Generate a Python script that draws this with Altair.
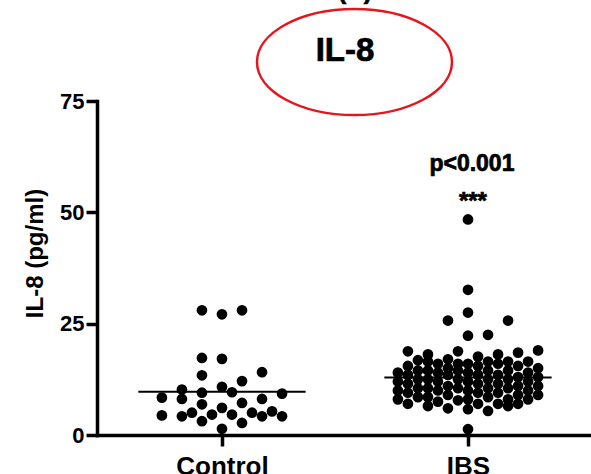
import altair as alt
import pandas as pd

# ---------------- data ----------------
groups = ["Control", "IBS"]

control_values = [28.0, 27.1, 28.0, 17.3, 17.1, 13.4, 14.1, 12.1, 10.8, 10.2,
                  9.6, 9.5, 9.3, 8.4, 8.1, 8.1, 7.2, 6.9, 4.4, 4.2,
                  5.0, 3.1, 4.6, 6.1, 4.6, 2.7, 5.0, 4.2, 5.3, 4.2, 1.4]
control_slots = [-2, 0, 2, -2, 0, -2, 4, 2, 0, -4,
                 1, -2, 6, -6, -4, 4, 2, -2, -6, -4,
                 -3, -2, -1, 0, 1, 2, 3, 4, 5, 6, 0]

ibs_values = [48.4, 32.6, 27.5, 25.7, 25.7, 22.3, 22.5, 1.3, 5.8, 5.4,
              18.8, 18.1, 17.0, 18.8, 17.6, 18.1, 18.5, 19.0,
              8.0, 10.0, 12.0, 14.0,
              7.0, 9.5, 11.5, 13.5, 15.5,
              8.5, 10.5, 12.5, 14.5, 16.8,
              6.5, 8.5, 10.5, 12.5, 14.5, 16.5,
              7.5, 10.0, 12.0, 14.0, 16.0,
              6.0, 9.0, 11.0, 13.5, 15.0,
              7.8, 10.5, 12.5, 14.5, 16.0,
              8.0, 10.0, 12.0, 14.0, 16.0,
              7.0, 9.5, 11.5, 13.5, 15.5,
              8.5, 10.5, 12.5, 14.5, 16.5,
              7.0, 9.5, 11.5, 13.5, 16.0,
              6.5, 8.0, 10.5, 12.5, 14.5, 16.5,
              7.0, 9.0, 11.0, 13.0, 15.5,
              8.0, 10.0, 12.0, 14.0, 16.5,
              9.0, 11.0, 13.0, 15.0]
ibs_slots = [0, 0, 0, -2, 4, 0, 2, 0, 0, 2,
             -6, -4, -2, -1, 1, 3, 5, 7,
             -7, -7, -7, -7,
             -6, -6, -6, -6, -6,
             -5, -5, -5, -5, -5,
             -4, -4, -4, -4, -4, -4,
             -3, -3, -3, -3, -3,
             -2, -2, -2, -2, -2,
             -1, -1, -1, -1, -1,
             0, 0, 0, 0, 0,
             1, 1, 1, 1, 1,
             2, 2, 2, 2, 2,
             3, 3, 3, 3, 3,
             4, 4, 4, 4, 4, 4,
             5, 5, 5, 5, 5,
             6, 6, 6, 6, 6,
             7, 7, 7, 7]

group_means = [9.7, 12.9]
y_ticks = [0, 25, 50, 75]

title_text = "IL-8"
panel_tag = "(A)"
p_text = "p<0.001"
stars_text = "***"
p_value_y = 59.2
stars_y = 50.7

# ---------------- build tables ----------------
SLOT = 0.0407      # width of one dot column in x-scale units
HALF = 0.34        # half width of the mean line in x-scale units

rows = []
for gi, (vals, slots) in enumerate([(control_values, control_slots),
                                    (ibs_values, ibs_slots)]):
    for v, s in zip(vals, slots):
        rows.append({"group": groups[gi], "value": v, "xpos": gi + 1 + s * SLOT})
df = pd.DataFrame(rows)

means_df = pd.DataFrame({
    "group": groups,
    "mean": group_means,
    "x1": [i + 1 - HALF for i in range(len(groups))],
    "x2": [i + 1 + HALF for i in range(len(groups))],
})

FONT = "Liberation Sans"

xscale = alt.Scale(domain=[0.492, 2.5], nice=False, zero=False)
yscale = alt.Scale(domain=[0, 75], nice=False)

label_expr = "[" + ",".join("'%s'" % g for g in groups) + "][datum.value - 1]"

points = alt.Chart(df).mark_circle(size=115, color="black", opacity=1).encode(
    x=alt.X("xpos:Q", scale=xscale,
            axis=alt.Axis(values=[1, 2], labelExpr=label_expr, title=None,
                          labelFontSize=26, labelPadding=7, labelFlush=False,
                          labelOverlap=False)),
    y=alt.Y("value:Q", scale=yscale,
            axis=alt.Axis(values=y_ticks, title="IL-8 (pg/ml)",
                          labelFontSize=22, labelPadding=2,
                          titleFontSize=24, titleX=-62, titleY=152,
                          titleAngle=270, titleAlign="center",
                          titleBaseline="middle")),
)

means = alt.Chart(means_df).mark_rule(color="black", strokeWidth=2).encode(
    x="x1:Q", x2="x2:Q", y="mean:Q"
)

text_style = dict(font=FONT, fontWeight="bold", color="black",
                  baseline="alphabetic", stroke="black", strokeWidth=0.7)

ptext = alt.Chart(pd.DataFrame({"t": [p_text], "x": [2.016], "y": [p_value_y]})).mark_text(
    fontSize=23, **text_style
).encode(x="x:Q", y="y:Q", text="t:N")

stars = alt.Chart(pd.DataFrame({"t": [stars_text], "x": [2.02], "y": [stars_y]})).mark_text(
    fontSize=24, **text_style
).encode(x="x:Q", y="y:Q", text="t:N")

title = alt.Chart(pd.DataFrame({"t": [title_text]})).mark_text(
    fontSize=33, **text_style
).encode(x=alt.value(248), y=alt.value(-40), text="t:N")

tag = alt.Chart(pd.DataFrame({"t": [panel_tag]})).mark_text(
    fontSize=24, **text_style
).encode(x=alt.value(258), y=alt.value(-102), text="t:N")

ellipse_path = "M -1 0 A 1 0.544 0 1 1 1 0 A 1 0.544 0 1 1 -1 0 Z"
ellipse = alt.Chart(pd.DataFrame({"k": [1]})).mark_point(
    shape=ellipse_path, filled=False, stroke="#e8141b", strokeWidth=2.5,
    size=195 * 195, opacity=1
).encode(x=alt.value(257.5), y=alt.value(-39))

chart = alt.layer(ellipse, title, tag, points, means, ptext, stars).properties(
    width=494, height=334,
    padding={"left": 97, "top": 101, "right": 0, "bottom": 39},
    autosize=alt.AutoSizeParams(type="none"),
    background="white",
).configure_view(stroke=None).configure_axis(
    grid=False, domainColor="black", domainWidth=3.5, tickColor="black",
    tickWidth=3.5, tickSize=11, labelFont=FONT, labelFontWeight="bold",
    labelColor="black", titleFont=FONT, titleFontWeight="bold", titleColor="black",
    domainCap="square"
)

chart.save("out.html", embed_options={"renderer": "svg", "actions": False})
